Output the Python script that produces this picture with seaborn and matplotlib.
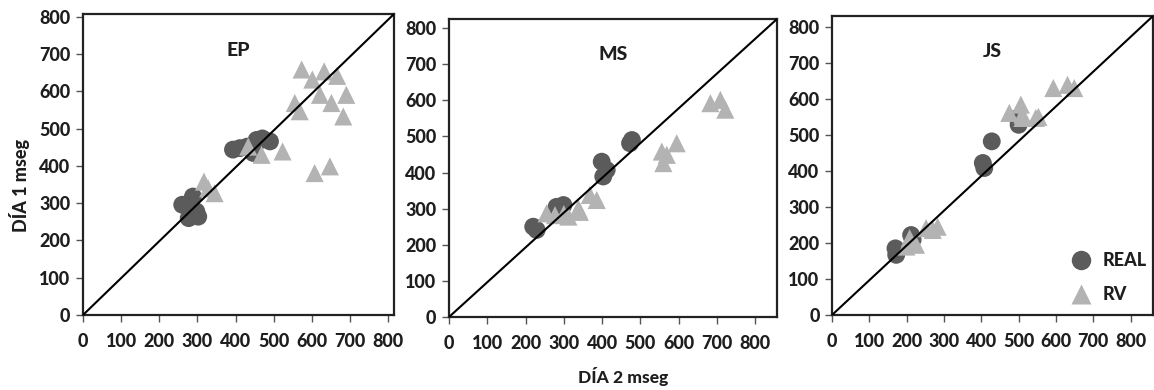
import numpy as np
import pandas as pd
import matplotlib
matplotlib.use("Agg")
import matplotlib.pyplot as plt
import seaborn as sns
from matplotlib.lines import Line2D

# ---- data ----
panels = ["EP", "MS", "JS"]

ep_real_x = [260, 288, 297, 277, 302, 393, 411, 430, 446, 455, 459, 470, 490]
ep_real_y = [296, 318, 278, 260, 264, 444, 448, 452, 435, 470, 466, 474, 466]
ep_rv_x = [317, 328, 345, 433, 468, 523, 573, 601, 632, 666, 555, 568, 621, 651, 690, 682, 607, 647]
ep_rv_y = [358, 340, 327, 452, 430, 439, 659, 632, 654, 642, 569, 547, 591, 569, 591, 533, 381, 399]

ms_real_x = [220, 229, 281, 299, 399, 403, 412, 478, 473]
ms_real_y = [250, 241, 305, 310, 430, 389, 407, 490, 481]
ms_rv_x = [255, 277, 300, 312, 342, 338, 368, 386, 556, 569, 560, 595, 683, 709, 722]
ms_rv_y = [287, 282, 285, 278, 291, 300, 338, 324, 458, 449, 426, 481, 592, 601, 574]

js_real_x = [170, 172, 212, 216, 404, 408, 428, 500, 497]
js_real_y = [185, 167, 222, 209, 422, 408, 482, 528, 547]
js_rv_x = [199, 225, 208, 252, 270, 283, 475, 506, 510, 510, 546, 553, 593, 631, 649]
js_rv_y = [190, 195, 213, 241, 236, 245, 561, 584, 556, 547, 547, 550, 630, 639, 630]

series_names = ["REAL", "RV"]
x_ticks = [0, 100, 200, 300, 400, 500, 600, 700, 800]
y_ticks = [0, 100, 200, 300, 400, 500, 600, 700, 800]
x_label = "DÍA 2 mseg"
y_label = "DÍA 1 mseg"

panel_data = {
    "EP": (ep_real_x, ep_real_y, ep_rv_x, ep_rv_y),
    "MS": (ms_real_x, ms_real_y, ms_rv_x, ms_rv_y),
    "JS": (js_real_x, js_real_y, js_rv_x, js_rv_y),
}

# ---- style ----
sns.set_theme(style="white")
plt.rcParams["font.family"] = ["Lato", "DejaVu Sans"]
WEIGHT = 900
TXT = "#1e1e1e"

colors = {"REAL": "#5b5b5b", "RV": "#b3b3b3"}
markers = {"REAL": "o", "RV": "^"}

fig = plt.figure(figsize=(11.54, 3.90), dpi=100)
W, H = 1154, 390
boxes = {
    "EP": (83, 394, 14, 315),
    "MS": (449, 777, 19, 317),
    "JS": (832, 1153, 16, 315),
}
limits = {"EP": (815, 808), "MS": (857, 825), "JS": (860, 830)}

for name in panels:
    l, r, t, b = boxes[name]
    ax = fig.add_axes([l / W, 1 - b / H, (r - l) / W, (b - t) / H])
    rx, ry, vx, vy = panel_data[name]
    df = pd.DataFrame({
        "x": list(rx) + list(vx),
        "y": list(ry) + list(vy),
        "serie": ["REAL"] * len(rx) + ["RV"] * len(vx),
    })
    for s_name, size in (("REAL", 165), ("RV", 170)):
        sub = df[df["serie"] == s_name]
        sns.scatterplot(data=sub, x="x", y="y", ax=ax, color=colors[s_name],
                        marker=markers[s_name], s=size, edgecolor="none",
                        legend=False, zorder=3)
    ax.plot([0, 1], [0, 1], transform=ax.transAxes, color="black", lw=1.5, zorder=4)
    xm, ym = limits[name]
    ax.set_xlim(0, xm)
    ax.set_ylim(0, ym)
    ax.set_xticks(x_ticks)
    ax.set_yticks(y_ticks)
    ax.set_xticklabels([str(v) for v in x_ticks], fontsize=13, fontweight=WEIGHT, color=TXT)
    ax.set_yticklabels([str(v) for v in y_ticks], fontsize=13, fontweight=WEIGHT, color=TXT)
    ax.tick_params(axis="x", direction="out", length=5, width=1, color="#555555", pad=8, bottom=True)
    ax.tick_params(axis="y", direction="out", length=5, width=1, color="#555555", pad=4, left=True)
    ax.set_xlabel("")
    ax.set_ylabel("")
    for sp in ax.spines.values():
        sp.set_color("#222222")
        sp.set_linewidth(1.6)
    ax.text(0.5, 0.88, name, transform=ax.transAxes, ha="center", va="center",
            fontsize=14, fontweight=WEIGHT, color=TXT)
    if name == "JS":
        handles = [
            Line2D([], [], ls="none", marker="o", markersize=14, color=colors["REAL"], markeredgecolor="none"),
            Line2D([], [], ls="none", marker="^", markersize=15, color=colors["RV"], markeredgecolor="none"),
        ]
        ax.legend(handles, series_names, loc="lower right", bbox_to_anchor=(1.03, -0.015),
                  frameon=False, labelspacing=0.95, handletextpad=0.6, handlelength=1.2,
                  prop={"weight": WEIGHT, "size": 13}, labelcolor=TXT)

fig.text(20 / W, 1 - 185 / H, y_label, rotation=90, ha="center", va="center",
         fontsize=13, fontweight=WEIGHT, color=TXT)
fig.text(623 / W, 1 - 377 / H, x_label, ha="center", va="center",
         fontsize=12.5, fontweight=WEIGHT, color=TXT)

fig.savefig("out.png", dpi=100, facecolor="white")
